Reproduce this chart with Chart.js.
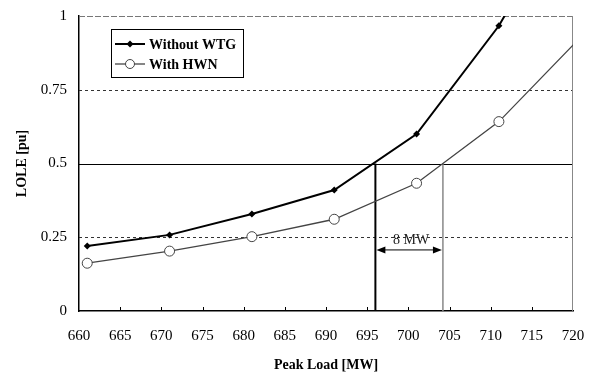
<!DOCTYPE html>
<html>
<head>
<meta charset="utf-8">
<script src="https://cdn.jsdelivr.net/npm/chart.js@4.4.0/dist/chart.umd.min.js"></script>
<style>
  body { margin: 0; background: #fff; }
  canvas { display: block; }
</style>
</head>
<body>
<canvas id="chart" width="595" height="374"></canvas>
<script>
'use strict'

// peak load [MW] of each point (last one sits past the right edge, line gets clipped)
const peakLoads = [661, 671, 681, 691, 701, 711, 721];
const withoutWTG = [0.22, 0.258, 0.329, 0.41, 0.6, 0.967, 1.45];
const withHWN = [0.162, 0.203, 0.252, 0.311, 0.433, 0.642, 0.93];

const xTickLabels = ['660', '665', '670', '675', '680', '685', '690', '695', '700', '705', '710', '715', '720'];
const yTickLabels = ['0', '0.25', '0.5', '0.75', '1'];

const dashedLevels = [0.25, 0.75];
const solidLevels = [0.5];
// loads where each curve reaches 0.5 pu, and the arrow between them
const crossLoads = [696, 704.2];
const arrowLevel = 0.207;
const arrowText = '8 MW';

const serif = '"Liberation Serif", "Times New Roman", serif';

function toPoints(values){
  return values.map((v, i) => ({x: peakLoads[i], y: v}));
}

const refLines = {
  id: 'refLines',
  beforeDatasetsDraw(chart){
    const ctx = chart.ctx;
    const area = chart.chartArea;
    const x = chart.scales.x;
    const y = chart.scales.y;
    ctx.save();
    // dashed grid
    ctx.strokeStyle = '#333';
    ctx.lineWidth = 1;
    ctx.setLineDash([3, 3]);
    for(let lv of dashedLevels){
      const py = Math.round(y.getPixelForValue(lv)) + 0.5;
      ctx.beginPath();
      ctx.moveTo(area.left, py);
      ctx.lineTo(area.right, py);
      ctx.stroke();
    }
    // top border, faint and broken
    ctx.strokeStyle = '#777';
    ctx.setLineDash([6, 2]);
    ctx.beginPath();
    ctx.moveTo(area.left, area.top + 0.5);
    ctx.lineTo(area.right, area.top + 0.5);
    ctx.stroke();
    ctx.setLineDash([]);
    // solid grid
    ctx.strokeStyle = '#000';
    for(let lv of solidLevels){
      const py = Math.round(y.getPixelForValue(lv)) + 0.5;
      ctx.beginPath();
      ctx.moveTo(area.left, py);
      ctx.lineTo(area.right, py);
      ctx.stroke();
    }
    // right border
    ctx.strokeStyle = '#888';
    ctx.beginPath();
    ctx.moveTo(area.right - 0.5, area.top);
    ctx.lineTo(area.right - 0.5, area.bottom);
    ctx.stroke();
    // inward ticks on the load axis
    ctx.strokeStyle = '#000';
    for(let t of x.ticks){
      if(t.value === x.min || t.value === x.max) continue;
      const px = Math.round(x.getPixelForValue(t.value)) + 0.5;
      ctx.beginPath();
      ctx.moveTo(px, area.bottom);
      ctx.lineTo(px, area.bottom - 4);
      ctx.stroke();
    }
    // drop lines from 0.5 pu
    const y0 = y.getPixelForValue(0);
    const yHalf = y.getPixelForValue(0.5);
    ctx.strokeStyle = '#000';
    ctx.lineWidth = 2;
    let px = x.getPixelForValue(crossLoads[0]);
    ctx.beginPath();
    ctx.moveTo(px, yHalf);
    ctx.lineTo(px, y0);
    ctx.stroke();
    ctx.strokeStyle = '#888';
    ctx.lineWidth = 1.5;
    px = x.getPixelForValue(crossLoads[1]);
    ctx.beginPath();
    ctx.moveTo(px, yHalf);
    ctx.lineTo(px, y0);
    ctx.stroke();
    ctx.restore();
  },
  afterDatasetsDraw(chart){
    const ctx = chart.ctx;
    const x = chart.scales.x;
    const y = chart.scales.y;
    const x1 = x.getPixelForValue(crossLoads[0]) + 1;
    const x2 = x.getPixelForValue(crossLoads[1]) - 1;
    const py = y.getPixelForValue(arrowLevel);
    ctx.save();
    ctx.strokeStyle = '#000';
    ctx.fillStyle = '#000';
    ctx.lineWidth = 1;
    ctx.beginPath();
    ctx.moveTo(x1 + 6, py);
    ctx.lineTo(x2 - 6, py);
    ctx.stroke();
    ctx.beginPath();
    ctx.moveTo(x1, py);
    ctx.lineTo(x1 + 9, py - 3.5);
    ctx.lineTo(x1 + 9, py + 3.5);
    ctx.closePath();
    ctx.fill();
    ctx.beginPath();
    ctx.moveTo(x2, py);
    ctx.lineTo(x2 - 9, py - 3.5);
    ctx.lineTo(x2 - 9, py + 3.5);
    ctx.closePath();
    ctx.fill();
    ctx.font = '14px ' + serif;
    ctx.fillStyle = '#222';
    ctx.textAlign = 'center';
    ctx.textBaseline = 'middle';
    ctx.fillText(arrowText, (x1 + x2) / 2 + 2, py - 10);
    ctx.restore();
  },
  afterDraw(chart){
    // legend box inside the plot
    const ctx = chart.ctx;
    ctx.save();
    ctx.fillStyle = '#fff';
    ctx.fillRect(111, 29, 132, 48);
    ctx.strokeStyle = '#000';
    ctx.lineWidth = 1;
    ctx.strokeRect(111.5, 29.5, 132, 48);

    const sets = chart.data.datasets;
    const rows = [44, 64];
    ctx.font = 'bold 14px ' + serif;
    ctx.textBaseline = 'middle';
    ctx.textAlign = 'left';
    sets.forEach((ds, i) => {
      const ly = rows[i];
      ctx.strokeStyle = ds.borderColor;
      ctx.lineWidth = ds.borderWidth;
      ctx.beginPath();
      ctx.moveTo(115, ly);
      ctx.lineTo(145, ly);
      ctx.stroke();
      ctx.lineWidth = 1;
      if(i === 0){
        ctx.fillStyle = '#000';
        ctx.beginPath();
        ctx.moveTo(130, ly - 3.5);
        ctx.lineTo(133.5, ly);
        ctx.lineTo(130, ly + 3.5);
        ctx.lineTo(126.5, ly);
        ctx.closePath();
        ctx.fill();
      } else {
        ctx.fillStyle = '#fff';
        ctx.strokeStyle = '#444';
        ctx.beginPath();
        ctx.arc(130, ly, 4.5, 0, Math.PI * 2);
        ctx.fill();
        ctx.stroke();
      }
      ctx.fillStyle = '#000';
      ctx.fillText(ds.label, 149, ly + 1);
    });
    ctx.restore();
  }
};

const ctx = document.getElementById('chart').getContext('2d');
const lolePlot = new Chart(ctx, {
  type: 'line',
  data: {
    datasets: [
      {
        label: 'Without WTG',
        data: toPoints(withoutWTG),
        borderColor: '#000',
        borderWidth: 2,
        backgroundColor: '#000',
        pointStyle: 'rectRot',
        pointRadius: 3.5,
        pointBorderWidth: 0,
        tension: 0,
        clip: 0
      },
      {
        label: 'With HWN',
        data: toPoints(withHWN),
        borderColor: '#444',
        borderWidth: 1.3,
        backgroundColor: '#fff',
        pointBorderColor: '#444',
        pointStyle: 'circle',
        pointRadius: 5,
        pointBorderWidth: 1,
        tension: 0,
        clip: 0
      }
    ]
  },
  plugins: [refLines],
  options: {
    responsive: false,
    animation: false,
    layout: { padding: { top: 16, right: 22, left: 0, bottom: 0 } },
    plugins: {
      legend: { display: false },
      tooltip: { enabled: false }
    },
    scales: {
      x: {
        type: 'linear',
        min: 660,
        max: 720,
        grid: { display: false, drawTicks: false },
        border: { display: true, color: '#000', width: 1.5 },
        ticks: {
          stepSize: 5,
          autoSkip: false,
          maxRotation: 0,
          padding: 16,
          color: '#000',
          font: { family: serif, size: 15 },
          callback: (v, i) => xTickLabels[i]
        },
        title: {
          display: true,
          text: 'Peak Load [MW]',
          color: '#000',
          font: { family: serif, size: 14, weight: 'bold' },
          padding: { top: 0, bottom: 0 }
        },
        afterFit: (scale) => {
          scale.height = 63;
          scale.paddingLeft = 0;
          scale.paddingRight = 0;
        }
      },
      y: {
        min: 0,
        max: 1,
        grid: { display: false, drawTicks: false },
        border: { display: true, color: '#000', width: 1.5 },
        ticks: {
          stepSize: 0.25,
          padding: 12,
          color: '#000',
          font: { family: serif, size: 15 },
          callback: (v, i) => yTickLabels[i]
        },
        title: {
          display: true,
          text: 'LOLE [pu]',
          color: '#000',
          font: { family: serif, size: 14, weight: 'bold' },
          padding: { top: 14, bottom: 0 }
        },
        afterFit: (scale) => {
          scale.width = 79;
          scale.paddingTop = 0;
          scale.paddingBottom = 0;
        }
      }
    }
  }
});
</script>
</body>
</html>
